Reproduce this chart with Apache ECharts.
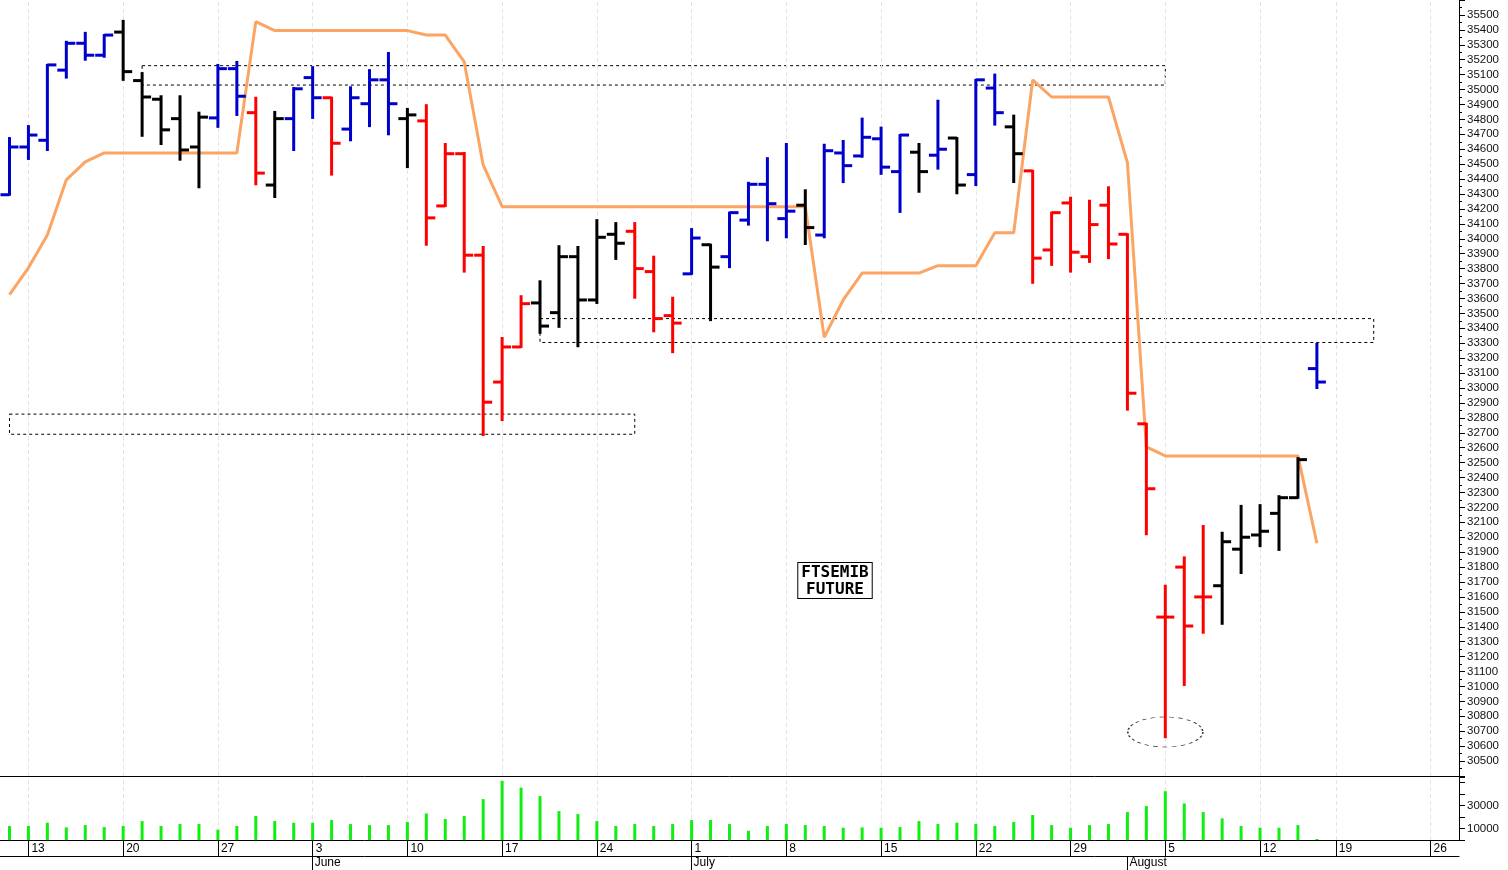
<!DOCTYPE html>
<html><head><meta charset="utf-8">
<script src="https://cdn.jsdelivr.net/npm/echarts@6/dist/echarts.min.js"></script>
<style>html,body{margin:0;padding:0;background:#fff}#c{width:1508px;height:870px}</style>
</head><body><div id="c"></div>
<script>
const dates = ["2019-05-10","2019-05-13","2019-05-14","2019-05-15","2019-05-16","2019-05-17","2019-05-20","2019-05-21","2019-05-22","2019-05-23","2019-05-24","2019-05-27","2019-05-28","2019-05-29","2019-05-30","2019-05-31",
"2019-06-03","2019-06-04","2019-06-05","2019-06-06","2019-06-07","2019-06-10","2019-06-11","2019-06-12","2019-06-13","2019-06-14","2019-06-17","2019-06-18","2019-06-19","2019-06-20","2019-06-21","2019-06-24","2019-06-25","2019-06-26","2019-06-27","2019-06-28",
"2019-07-01","2019-07-02","2019-07-03","2019-07-04","2019-07-05","2019-07-08","2019-07-09","2019-07-10","2019-07-11","2019-07-12","2019-07-15","2019-07-16","2019-07-17","2019-07-18","2019-07-19","2019-07-22","2019-07-23","2019-07-24","2019-07-25","2019-07-26","2019-07-29","2019-07-30","2019-07-31",
"2019-08-01","2019-08-02","2019-08-05","2019-08-06","2019-08-07","2019-08-08","2019-08-09","2019-08-12","2019-08-13","2019-08-14","2019-08-16","2019-08-19","2019-08-20","2019-08-21","2019-08-22","2019-08-23","2019-08-26","2019-08-27"];
const opens = [34295,34615,34660,35130,35310,35230,35385,35060,34935,34805,34615,34810,35140,34845,34360,34805,35080,34945,34735,34905,35065,34805,34790,34220,34570,33890,33040,33275,33570,33505,33880,33590,34030,34050,33780,33485,33765,33960,33880,34125,34365,34135,34225,34025,34575,34555,34670,34450,34580,34560,34675,34430,35010,34750,34455,33925,34240,33880,34225,34030,32760,31465,31800,31600,31675,31920,32015,32160,32265,33130];
const highs = [34675,34755,35165,35320,35380,35365,35460,35110,34955,34955,34845,35165,35185,34945,34850,35010,35150,34945,35015,35130,35245,34870,34895,34635,34575,33945,33335,33615,33715,33950,33945,34125,34105,34105,33880,33605,34065,33960,34175,34375,34540,34635,34325,34630,34655,34805,34745,34695,34635,34925,34675,35065,35100,34825,34455,34175,34275,34255,34345,34030,32760,31675,31865,32075,32030,32210,32215,32275,32530,33295];
const lows = [34295,34535,34595,35080,35200,35220,35065,34690,34635,34530,34345,34750,34830,34365,34280,34595,34810,34430,34660,34755,34700,34480,33960,34220,33780,32685,32785,33275,33370,33410,33280,33570,33865,33605,33380,33240,33765,33455,33810,34095,33990,34010,33965,34010,34380,34550,34435,34180,34315,34470,34305,34360,34765,34380,33705,33825,33780,33845,33870,32855,32020,30660,31010,31360,31420,31760,31940,31915,32265,33000];
const closes = [34615,34695,35165,35310,35230,35365,35120,34950,34730,34595,34815,35140,34955,34440,34805,35005,34945,34640,34945,35065,34905,34830,34140,34570,33890,32905,33275,33565,33415,33880,33590,34010,33970,33800,33465,33435,34005,33810,34175,34365,34235,34185,34075,34590,34490,34680,34480,34695,34450,34600,34360,35065,34845,34570,33870,34175,33910,34095,33965,32965,32325,31465,31405,31600,31970,32000,32040,32265,32520,33040];
const barColorCodes = "BBBBBBKKKKKBBRKBBRBBBKRRRRRRKKKKKRRRBKBBBBKBBBBBKBKBBKRRRRRRRRRRKKKKKB";
const trendLine = [33625,33805,34025,34395,34515,34575,34575,34575,34575,34575,34575,34575,34575,35455,35395,35395,35395,35395,35395,35395,35395,35395,35365,35365,35185,34495,34215,34215,34215,34215,34215,34215,34215,34215,34215,34215,34215,34215,34215,34215,34215,34215,34215,33340,33590,33770,33770,33770,33770,33820,33820,33820,34040,34040,35065,34950,34950,34950,34950,34510,32605,32545,32545,32545,32545,32545,32545,32545,32545,31960];
const volumes = [12200,12200,15100,11000,13000,11300,12200,16500,12200,13900,13900,9000,12200,20900,16500,15100,15100,17400,13900,13000,13000,15700,23200,18300,20900,35700,51600,45800,38300,25200,22600,16500,12200,13900,12200,13900,17400,17400,13900,8100,12200,13900,13000,12200,10700,11000,10700,11300,16500,13900,15100,13900,12200,15700,21800,13000,10700,13000,13900,24400,29600,42600,31900,24400,18900,12200,10700,10700,13000,900];
const priceTicks = {min:30400, max:35600, step:100};
const volTickLabels = [10000, 30000];
const boxes = [
  {from: 7, to: 61, top: 35160, bottom: 35030},
  {from: 0, to: 33, top: 32825, bottom: 32690},
  {from: 28, to: 72, top: 33465, bottom: 33305}
];
const lowMark = {index: 61, value: 30695};
const titleText = "FTSEMIB\nFUTURE";

const colorMap = {B:'#0000cc', K:'#000000', R:'#ff0000'};
const dow = d => new Date(d + 'T00:00:00Z').getUTCDay();
const weekStart = i => i > 0 && dow(dates[i]) < dow(dates[i-1]);
const monthStart = i => i > 0 && dates[i].slice(5,7) !== dates[i-1].slice(5,7);
const monthNames = {"06":"June","07":"July","08":"August"};
const ohlc = opens.map((o,i)=>[i,o,highs[i],lows[i],closes[i]]);
const weekLines = dates.map((d,i)=>i).filter(weekStart).map(i=>({xAxis: i}));

const chart = echarts.init(document.getElementById('c'));
const vline = {silent:true, symbol:'none', label:{show:false}, lineStyle:{color:'#e4e4e4', type:[4,3], width:1}, data: weekLines};
chart.setOption({
  animation:false,
  backgroundColor:'#ffffff',
  grid:[{left:0,right:49,top:0,height:776},{left:0,right:49,top:777,height:63}],
  xAxis:[
    {type:'category', gridIndex:0, data:dates, boundaryGap:true, axisLine:{show:true, lineStyle:{color:'#000',width:1}}, axisTick:{show:false}, axisLabel:{show:false}, splitLine:{show:false}},
    {type:'category', gridIndex:1, data:dates, boundaryGap:true, position:'bottom',
      axisLine:{show:true, lineStyle:{color:'#000',width:1}},
      axisTick:{show:true, alignWithLabel:true, length:16, inside:false, interval:(i)=>weekStart(i), lineStyle:{color:'#000'}},
      axisLabel:{show:true, interval:(i)=>weekStart(i), formatter:(v)=>String(parseInt(v.slice(8),10)), align:'left', padding:[0,0,0,3], margin:3, fontSize:12, color:'#000', fontFamily:'Liberation Sans'},
      splitLine:{show:false}},
    {type:'category', gridIndex:1, data:dates, boundaryGap:true, position:'bottom', offset:16,
      axisLine:{show:true, lineStyle:{color:'#000',width:1}},
      axisTick:{show:true, alignWithLabel:true, length:14, interval:(i)=>monthStart(i), lineStyle:{color:'#000'}},
      axisLabel:{show:true, interval:(i)=>monthStart(i), formatter:(v)=>monthNames[v.slice(5,7)]||'', align:'left', padding:[0,0,0,2], margin:1, fontSize:12, color:'#000', fontFamily:'Liberation Sans'},
      splitLine:{show:false}}
  ],
  yAxis:[
    {type:'value', gridIndex:0, position:'right', min:priceTicks.min, max:priceTicks.max, interval:priceTicks.step,
      axisLine:{show:true, lineStyle:{color:'#000'}}, axisTick:{show:true, length:6, lineStyle:{color:'#000'}},
      minorTick:{show:true, splitNumber:2, length:3, lineStyle:{color:'#000'}},
      axisLabel:{margin:8, fontSize:11.5, color:'#111', fontFamily:'Liberation Sans', formatter:(v)=> (v<=priceTicks.min||v>=priceTicks.max)?'':String(v)},
      splitLine:{show:false}},
    {type:'value', gridIndex:1, position:'right', min:0, max:55000, interval:10000,
      axisLine:{show:true, lineStyle:{color:'#000'}}, axisTick:{show:true, length:6, lineStyle:{color:'#000'}},
      axisLabel:{margin:8, fontSize:11.5, color:'#111', fontFamily:'Liberation Sans', formatter:(v)=> volTickLabels.includes(v)?String(v):''},
      splitLine:{show:false}}
  ],
  series:[
    {type:'line', xAxisIndex:0, yAxisIndex:0, data:[], z:0, markLine: vline},
    {type:'line', xAxisIndex:1, yAxisIndex:1, data:[], z:0, markLine: vline},
    {type:'line', zlevel:1, xAxisIndex:0, yAxisIndex:0, data:trendLine, showSymbol:false, lineStyle:{color:'#fba463', width:3}, z:2,
      markArea:{silent:true, itemStyle:{color:'rgba(0,0,0,0)', borderColor:'#000', borderWidth:1, borderType:[3,3]},
        data: boxes.map(b=>[{xAxis:b.from, yAxis:b.top},{xAxis:b.to, yAxis:b.bottom}])}},
    {type:'custom', zlevel:1, xAxisIndex:0, yAxisIndex:0, data:ohlc, encode:{x:0,y:[1,2,3,4]}, z:3,
      renderItem:(params, api)=>{
        const i = api.value(0);
        const pH = api.coord([i, api.value(2)]), pL = api.coord([i, api.value(3)]);
        const pO = api.coord([i, api.value(1)]), pC = api.coord([i, api.value(4)]);
        const col = colorMap[barColorCodes[params.dataIndex]];
        const st = {stroke:col, lineWidth:3};
        return {type:'group', children:[
          {type:'line', shape:{x1:pH[0],y1:pH[1]-1,x2:pL[0],y2:pL[1]+1}, style:st},
          {type:'line', shape:{x1:pO[0]-9,y1:pO[1],x2:pO[0],y2:pO[1]}, style:st},
          {type:'line', shape:{x1:pC[0],y1:pC[1],x2:pC[0]+9,y2:pC[1]}, style:st}
        ]};
      }},
    {type:'scatter', zlevel:1, xAxisIndex:0, yAxisIndex:0, data:[[lowMark.index, lowMark.value]], symbol:'circle', symbolSize:[75,30], z:4,
      itemStyle:{color:'rgba(0,0,0,0)', borderColor:'#000', borderWidth:1, borderType:[3,3]}},
    {type:'bar', zlevel:1, xAxisIndex:1, yAxisIndex:1, data:volumes, barWidth:3, itemStyle:{color:'#11ee11'}, z:3}
  ],
  graphic:[
    {type:'text', zlevel:2, x:835, y:563, z:10, style:{text:titleText, font:'bold 16px "DejaVu Sans Mono"', fill:'#000', align:'center', verticalAlign:'top', lineHeight:17,
      backgroundColor:'#fff', borderColor:'#000', borderWidth:1, padding:[1,3,0,3]}}
  ]
});
</script></body></html>
